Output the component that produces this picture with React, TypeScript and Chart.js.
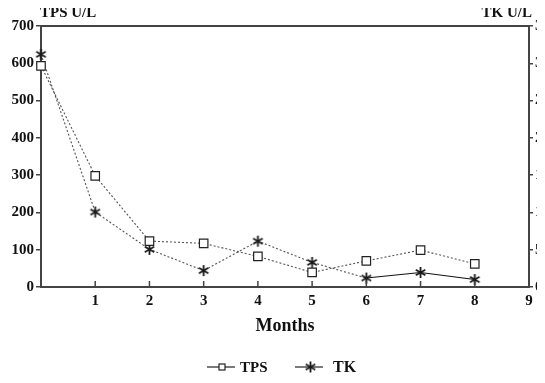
import React, { useEffect, useRef } from "react";
import { Chart, registerables } from "chart.js";

Chart.register(...registerables);

const months = [0, 1, 2, 3, 4, 5, 6, 7, 8];
const tpsValues = [593, 298, 123, 117, 82, 39, 70, 99, 62];
const tkValues = [31.2, 10.05, 5.05, 2.2, 6.15, 3.3, 1.2, 1.95, 1.0];
const leftTicks = [0, 100, 200, 300, 400, 500, 600, 700];
const rightTicks = [0, 5, 10, 15, 20, 25, 30, 35];
const xTicks = [1, 2, 3, 4, 5, 6, 7, 8, 9];

const FONT = "'Liberation Serif', 'Times New Roman', serif";

function makeAsterisk(): HTMLCanvasElement {
  const c = document.createElement("canvas");
  c.width = 13;
  c.height = 13;
  const g = c.getContext("2d")!;
  g.strokeStyle = "#1a1a1a";
  g.lineWidth = 1.8;
  const cx = 6.5, cy = 6.5, r = 5.5;
  g.beginPath();
  g.moveTo(cx, cy - r);
  g.lineTo(cx, cy + r);
  for (const a of [Math.PI / 6, -Math.PI / 6]) {
    g.moveTo(cx - r * Math.cos(a), cy - r * Math.sin(a));
    g.lineTo(cx + r * Math.cos(a), cy + r * Math.sin(a));
  }
  g.stroke();
  return c;
}

export default function App() {
  const ref = useRef<HTMLCanvasElement | null>(null);

  useEffect(() => {
    if (!ref.current) return;
    const star = makeAsterisk();

    const decor = {
      id: "decor",
      afterDraw(chart: any) {
        const ctx = chart.ctx;
        const { left, right, top, bottom } = chart.chartArea;
        const xs = chart.scales.x;
        ctx.save();
        // top frame line
        ctx.strokeStyle = "#444";
        ctx.lineWidth = 2;
        ctx.beginPath();
        ctx.moveTo(left, top);
        ctx.lineTo(right, top);
        ctx.stroke();
        // inward x ticks
        ctx.lineWidth = 1.5;
        for (const t of xTicks) {
          const px = xs.getPixelForValue(t);
          ctx.beginPath();
          ctx.moveTo(px, bottom);
          ctx.lineTo(px, bottom - 6);
          ctx.stroke();
        }
        ctx.fillStyle = "#111";
        ctx.font = `bold 15px ${FONT}`;
        ctx.textBaseline = "middle";
        ctx.textAlign = "left";
        ctx.fillText("TPS U/L", left - 1, 13);
        ctx.textAlign = "right";
        ctx.fillText("TK U/L", right + 3, 13.5);
        // x title
        ctx.font = `bold 18px ${FONT}`;
        ctx.textAlign = "center";
        ctx.fillText("Months", (left + right) / 2, 326);
        // legend
        const ly = 367;
        ctx.font = `bold 15px ${FONT}`;
        ctx.textAlign = "left";
        ctx.strokeStyle = "#222";
        ctx.lineWidth = 1.2;
        ctx.beginPath();
        ctx.moveTo(199, ly);
        ctx.lineTo(227, ly);
        ctx.stroke();
        ctx.fillStyle = "#fff";
        ctx.fillRect(211, ly - 3, 6, 6);
        ctx.strokeRect(211, ly - 3, 6, 6);
        ctx.fillStyle = "#111";
        ctx.fillText("TPS", 232, ly + 1);
        ctx.beginPath();
        ctx.moveTo(287, ly);
        ctx.lineTo(315, ly);
        ctx.stroke();
        ctx.drawImage(star, 296, ly - 6.5);
        ctx.font = `bold 16px ${FONT}`;
        ctx.fillText("TK", 325, ly + 1);
        ctx.restore();
      },
    };

    const chart = new Chart(ref.current, {
      type: "line",
      data: {
        datasets: [
          {
            label: "TPS",
            data: months.map((m, i) => ({ x: m, y: tpsValues[i] })),
            yAxisID: "y",
            borderColor: "#555",
            borderWidth: 1.1,
            borderDash: [2, 2],
            pointStyle: "rect",
            pointRadius: 6,
            pointBackgroundColor: "#fff",
            pointBorderColor: "#222",
            pointBorderWidth: 1.2,
            clip: false,
            tension: 0,
          },
          {
            label: "TK",
            data: months.map((m, i) => ({ x: m, y: tkValues[i] })),
            yAxisID: "y1",
            borderColor: "#444",
            borderWidth: 1.1,
            borderDash: [2, 2],
            segment: {
              borderDash: (c: any) => (c.p0DataIndex >= 6 ? [] : [2, 2]),
              borderColor: (c: any) => (c.p0DataIndex >= 6 ? "#111" : "#555"),
            },
            pointStyle: star,
            pointRadius: 6,
            clip: false,
            tension: 0,
          } as any,
        ],
      },
      options: {
        animation: false,
        responsive: false,
        layout: { padding: { top: 26, left: 0, right: 0, bottom: 0 } },
        plugins: { legend: { display: false }, tooltip: { enabled: false } },
        scales: {
          x: {
            type: "linear",
            min: 0,
            max: 9,
            afterFit: (s: any) => { s.height = 96; },
            afterBuildTicks: (s: any) => { s.ticks = xTicks.map((v) => ({ value: v })); },
            grid: { display: false, drawTicks: false },
            border: { display: true, color: "#444", width: 2 },
            ticks: {
              color: "#111",
              font: { family: FONT, size: 15, weight: "bold" },
              padding: 5,
              maxRotation: 0,
            },
          },
          y: {
            position: "left",
            min: 0,
            max: 700,
            afterFit: (s: any) => { s.width = 33; },
            afterBuildTicks: (s: any) => { s.ticks = leftTicks.map((v) => ({ value: v })); },
            grid: { drawOnChartArea: false, drawTicks: true, tickLength: 5, color: "#444", lineWidth: 1.5 },
            border: { display: true, color: "#444", width: 2 },
            ticks: {
              color: "#111",
              font: { family: FONT, size: 15, weight: "bold" },
              padding: 2,
            },
          },
          y1: {
            position: "right",
            min: 0,
            max: 35,
            afterFit: (s: any) => { s.width = 39; },
            afterBuildTicks: (s: any) => { s.ticks = rightTicks.map((v) => ({ value: v })); },
            grid: { drawOnChartArea: false, drawTicks: true, tickLength: 4, color: "#444", lineWidth: 1.5 },
            border: { display: true, color: "#444", width: 2 },
            ticks: {
              color: "#111",
              font: { family: FONT, size: 15, weight: "bold" },
              padding: 2,
            },
          },
        },
      } as any,
      plugins: [decor],
    });
    return () => chart.destroy();
  }, []);

  return (
    <div style={{ width: 537, height: 383, marginTop: -8, overflow: "hidden", background: "#fff" }}>
      <canvas ref={ref} width={560} height={383} style={{ display: "block" }} />
    </div>
  );
}
